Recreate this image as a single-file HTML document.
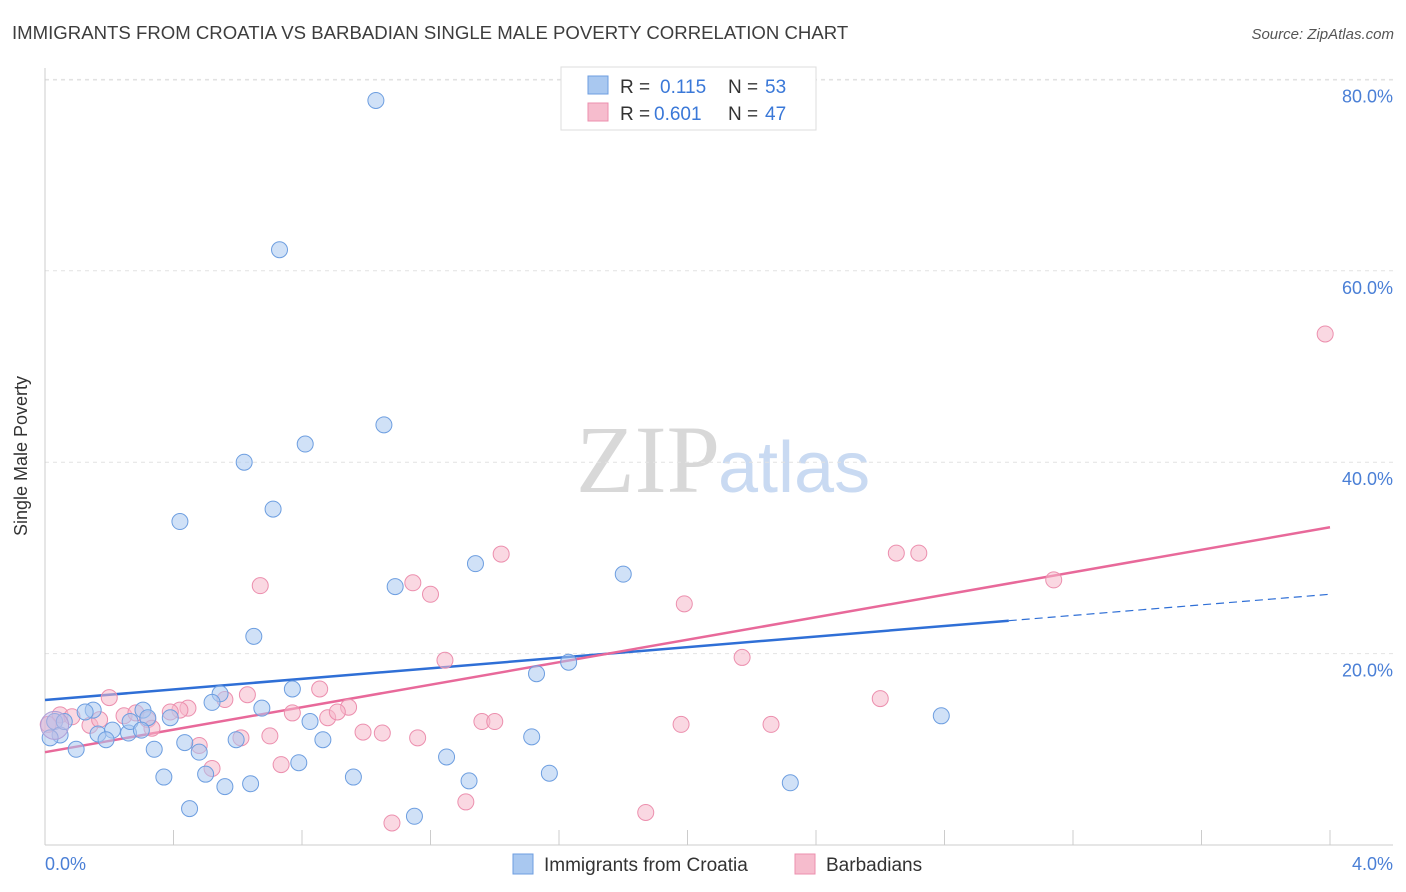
<!DOCTYPE html>
<html><head><meta charset="utf-8"><style>
body{margin:0;background:#fff;font-family:"Liberation Sans",sans-serif;}
svg{display:block}
</style></head><body>
<svg id="chart" width="1406" height="892">
<text x="12" y="39" font-size="18.6" fill="#3d3d3d">IMMIGRANTS FROM CROATIA VS BARBADIAN SINGLE MALE POVERTY CORRELATION CHART</text>
<text x="1394" y="39" font-size="15" fill="#555" font-style="italic" text-anchor="end">Source: ZipAtlas.com</text>
<text x="720" y="492" font-size="96" fill="#d8d8d8" text-anchor="end" font-family="Liberation Serif">ZIP</text>
<text x="718" y="492" font-size="72" fill="#c9daf2">atlas</text>
<g id="grid"></g><g id="axes"></g><g id="lines"></g><g id="pts"></g>
<text x="27" y="456" font-size="18" fill="#333" text-anchor="middle" transform="rotate(-90 27 456)">Single Male Poverty</text>
<g>
<rect x="561" y="67" width="255" height="63" fill="#fff" stroke="#ddd"/>
<rect x="588" y="76" width="20" height="18" fill="#a9c8f0" stroke="#6d9ee0"/>
<text x="620" y="93" font-size="19" fill="#333">R =</text><text x="660" y="93" font-size="19" fill="#3a78d8">0.115</text>
<text x="728" y="93" font-size="19" fill="#333">N =</text><text x="765" y="93" font-size="19" fill="#3a78d8">53</text>
<rect x="588" y="103" width="20" height="18" fill="#f6bccd" stroke="#ec8fae"/>
<text x="620" y="120" font-size="19" fill="#333">R =</text><text x="654" y="120" font-size="19" fill="#3a78d8">0.601</text>
<text x="728" y="120" font-size="19" fill="#333">N =</text><text x="765" y="120" font-size="19" fill="#3a78d8">47</text>
</g>
<g>
<rect x="513" y="854" width="20" height="20" fill="#a9c8f0" stroke="#6d9ee0"/>
<text x="544" y="871" font-size="19" fill="#333">Immigrants from Croatia</text>
<rect x="795" y="854" width="20" height="20" fill="#f6bccd" stroke="#ec8fae"/>
<text x="826" y="871" font-size="19" fill="#333">Barbadians</text>
</g>
</svg>
<script>
const xTicks=[0,0.4,0.8,1.2,1.6,2.0,2.4,2.8,3.2,3.6,4.0];
const yTicks=[20,40,60,80];
const yTickLabels=["20.0%","40.0%","60.0%","80.0%"];
const xTickLabels=["0.0%","4.0%"];
const croatiaX=[1.03,0.73,1.055,0.81,0.62,0.42,0.71,1.34,1.09,1.80,0.65,1.63,1.53,0.77,0.545,0.52,0.675,2.79,0.825,0.39,0.305,0.15,0.125,0.03,0.047,0.016,0.097,0.165,0.26,0.21,0.265,0.32,0.34,0.435,0.48,0.595,0.865,1.515,1.25,0.37,0.50,0.56,0.64,0.79,0.96,1.32,1.57,0.45,1.15,2.32,0.06,0.19,0.30];
const croatiaY=[77.8,62.2,43.9,41.9,40.0,33.8,35.1,29.4,27.0,28.3,21.8,19.1,17.9,16.3,15.8,14.9,14.3,13.5,12.9,13.3,14.1,14.1,13.9,12.9,11.5,11.2,10.0,11.6,11.7,12.0,12.9,13.3,10.0,10.7,9.7,11.0,11.0,11.3,9.2,7.1,7.4,6.1,6.4,8.6,7.1,6.7,7.5,3.8,3.0,6.5,12.9,11.0,12.0];
const barbX=[3.985,1.42,2.65,2.72,1.145,0.67,1.20,1.99,3.14,1.245,2.17,0.20,0.63,0.855,2.60,0.945,0.445,0.42,0.39,0.56,0.77,0.88,0.91,0.246,0.283,0.32,0.047,0.084,0.01,0.14,0.17,0.333,1.36,1.40,1.98,2.26,0.99,1.05,0.70,0.61,0.48,1.16,0.735,0.52,1.31,1.87,1.08];
const barbY=[53.4,30.4,30.5,30.5,27.4,27.1,26.2,25.2,27.7,19.3,19.6,15.4,15.7,16.3,15.3,14.4,14.3,14.1,13.9,15.2,13.8,13.3,13.9,13.5,13.8,13.1,13.6,13.4,12.6,12.5,13.1,12.2,12.9,12.9,12.6,12.6,11.8,11.7,11.4,11.2,10.4,11.2,8.4,8.0,4.5,3.4,2.3];
const croatiaTrend=[15.15,26.2];
const barbTrend=[9.7,33.2];
const sx=v=>45+v*321.25, sy=v=>845-v*9.57;
const NS="http://www.w3.org/2000/svg";
function mk(parent,tag,attrs){const e=document.createElementNS(NS,tag);for(const k in attrs)e.setAttribute(k,attrs[k]);document.getElementById(parent).appendChild(e);return e;}
yTicks.forEach((t,i)=>{
 const g=mk('grid','line',{x1:45,x2:1393,y1:sy(t),y2:sy(t),stroke:'#e2e2e2','stroke-dasharray':'4 4'});
 
 
 const l=mk('grid','text',{x:1393,y:sy(t)+23,'font-size':18,fill:'#4a7fd6','text-anchor':'end'});
 l.textContent=yTickLabels[i];
 
 
});
const topLine=mk('grid','line',{x1:45,x2:1393,y1:80,y2:80,stroke:'#e2e2e2','stroke-dasharray':'4 4'});
mk('axes','line',{x1:45,x2:45,y1:68,y2:845,stroke:'#ccc'});
mk('axes','line',{x1:45,x2:1393,y1:845,y2:845,stroke:'#ccc'});
xTicks.forEach(t=>{
 const tk=mk('axes','line',{x1:sx(t),x2:sx(t),y1:830,y2:845,stroke:'#ccc'});
 
 
});
const xl0=mk('axes','text',{x:45,y:870,'font-size':18,fill:'#4a7fd6'});xl0.textContent=xTickLabels[0];


const xl1=mk('axes','text',{x:1393,y:870,'font-size':18,fill:'#4a7fd6','text-anchor':'end'});xl1.textContent=xTickLabels[1];


function pts(xs,ys,fill,stroke,name){xs.forEach((x,i)=>{
 const c=mk('pts','circle',{cx:sx(x),cy:sy(ys[i]),r:8,fill:fill,'fill-opacity':0.55,stroke:stroke,'stroke-width':1});
 
 
});}
pts(barbX,barbY,'#f6b8cb','#ec8fae','barbadian-point');
pts(croatiaX,croatiaY,'#a9c8f0','#6d9ee0','croatia-point');
const big=mk('pts','circle',{cx:sx(0.03),cy:sy(12.5),r:14,fill:'#c8b8e0','fill-opacity':0.5,stroke:'#b0a0d8'});
const ct=x=>croatiaTrend[0]+(croatiaTrend[1]-croatiaTrend[0])*x/4;
const bt=x=>barbTrend[0]+(barbTrend[1]-barbTrend[0])*x/4;
const l1=mk('lines','line',{x1:sx(0),y1:sy(ct(0)),x2:sx(3.0),y2:sy(ct(3.0)),stroke:'#2f6fd6','stroke-width':2.5});


const l1d=mk('lines','line',{x1:sx(3.0),y1:sy(ct(3.0)),x2:sx(4),y2:sy(ct(4)),stroke:'#2f6fd6','stroke-width':1.2,'stroke-dasharray':'8 5'});


const l2=mk('lines','line',{x1:sx(0),y1:sy(bt(0)),x2:sx(4),y2:sy(bt(4)),stroke:'#e8699a','stroke-width':2.5});


</script>
</body></html>
